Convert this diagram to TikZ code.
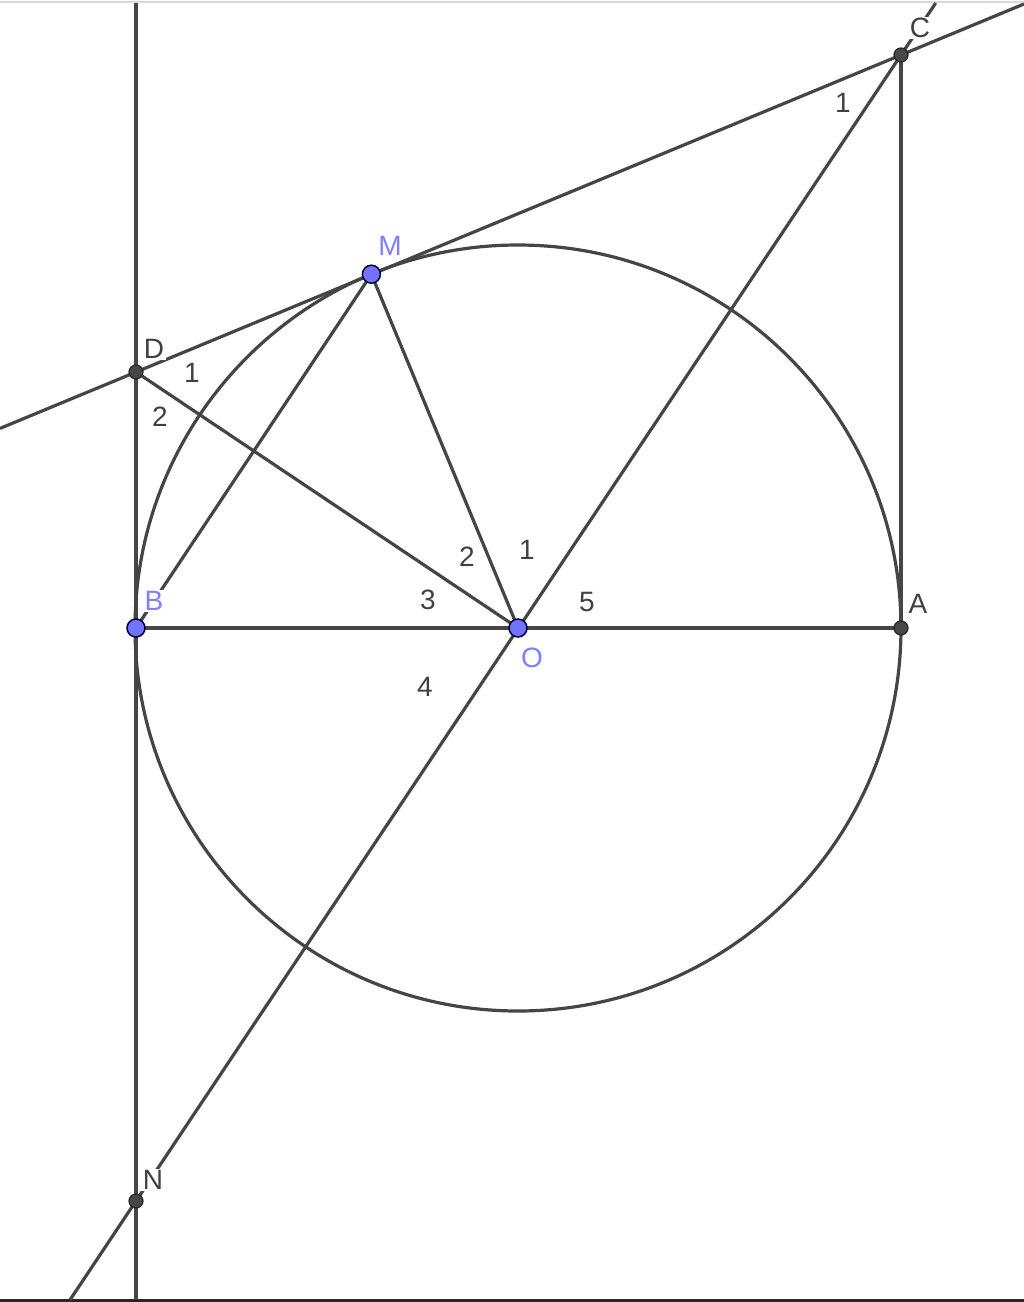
\documentclass[tikz,border=0pt]{standalone}
\usepackage{fontspec}
\setmainfont{Liberation Sans}
\definecolor{ln}{HTML}{454545}
\definecolor{ptdark}{HTML}{474747}
\definecolor{ptblue}{HTML}{7373FF}
\definecolor{lblblue}{HTML}{7F7FFF}
\definecolor{lbl}{HTML}{404040}
\tikzset{
  geo/.style={draw=ln, line width=3.2pt},
  darkpt/.style={circle, fill=ptdark, draw=black!85, line width=1.2pt, minimum size=14pt, inner sep=0pt},
  bluept/.style={circle, fill=ptblue, draw=black!80!blue, line width=1.5pt, minimum size=18pt, inner sep=0pt},
  lab/.style={font=\fontsize{28}{28}\selectfont, text=lbl, inner sep=1.5pt},
  plab/.style={lab, fill=white},
  blab/.style={plab, text=lblblue}
}
\begin{document}
\begin{tikzpicture}[x=1pt,y=-1pt]
\useasboundingbox (0,0) rectangle (1024,1302);
\fill[white] (0,0) rectangle (1024,1302);
% frame lines
\draw[black!15, line width=2pt] (0,2) -- (1024,2);
\draw[black!85, line width=3pt] (0,1300.5) -- (1024,1300.5);
% points
\coordinate (O) at (518,628);
\coordinate (B) at (136,628);
\coordinate (A) at (901,628);
\coordinate (M) at (371.4,274.2);
\coordinate (D) at (136,372);
\coordinate (C) at (901,55);
\coordinate (N) at (136,1201);
\coordinate (Tl) at (0,428.4);
\coordinate (Tr) at (1024,4);
\coordinate (Ct) at (935.7,3);
\coordinate (Nb) at (69.9,1300);
\coordinate (Vt) at (136,3);
\coordinate (Vb) at (136,1300);
% circle
\draw[geo] (O) circle[radius=383pt];
% lines
\draw[geo] (Vt) -- (Vb);
\draw[geo] (Tl) -- (Tr);
\draw[geo] (Ct) -- (Nb);
\draw[geo] (C) -- (A);
\draw[geo] (B) -- (A);
\draw[geo] (D) -- (O);
\draw[geo] (B) -- (M);
\draw[geo] (M) -- (O);
% labels
\node[plab] at (920,28) {C};
\node[lab] at (843,103) {1};
\node[blab] at (390,246) {M};
\node[plab] at (154,349) {D};
\node[lab] at (192,373) {1};
\node[lab] at (160,417) {2};
\node[blab] at (154,601) {B};
\node[lab] at (467,557) {2};
\node[lab] at (527,550) {1};
\node[lab] at (428,600) {3};
\node[lab] at (587,602) {5};
\node[blab] at (532,658) {O};
\node[lab] at (425,687) {4};
\node[plab] at (918,604) {A};
\node[plab] at (153,1180) {N};
% point markers
\node[darkpt] at (C) {};
\node[darkpt] at (D) {};
\node[darkpt] at (A) {};
\node[darkpt] at (N) {};
\node[bluept] at (M) {};
\node[bluept] at (B) {};
\node[bluept] at (O) {};
\end{tikzpicture}
\end{document}
